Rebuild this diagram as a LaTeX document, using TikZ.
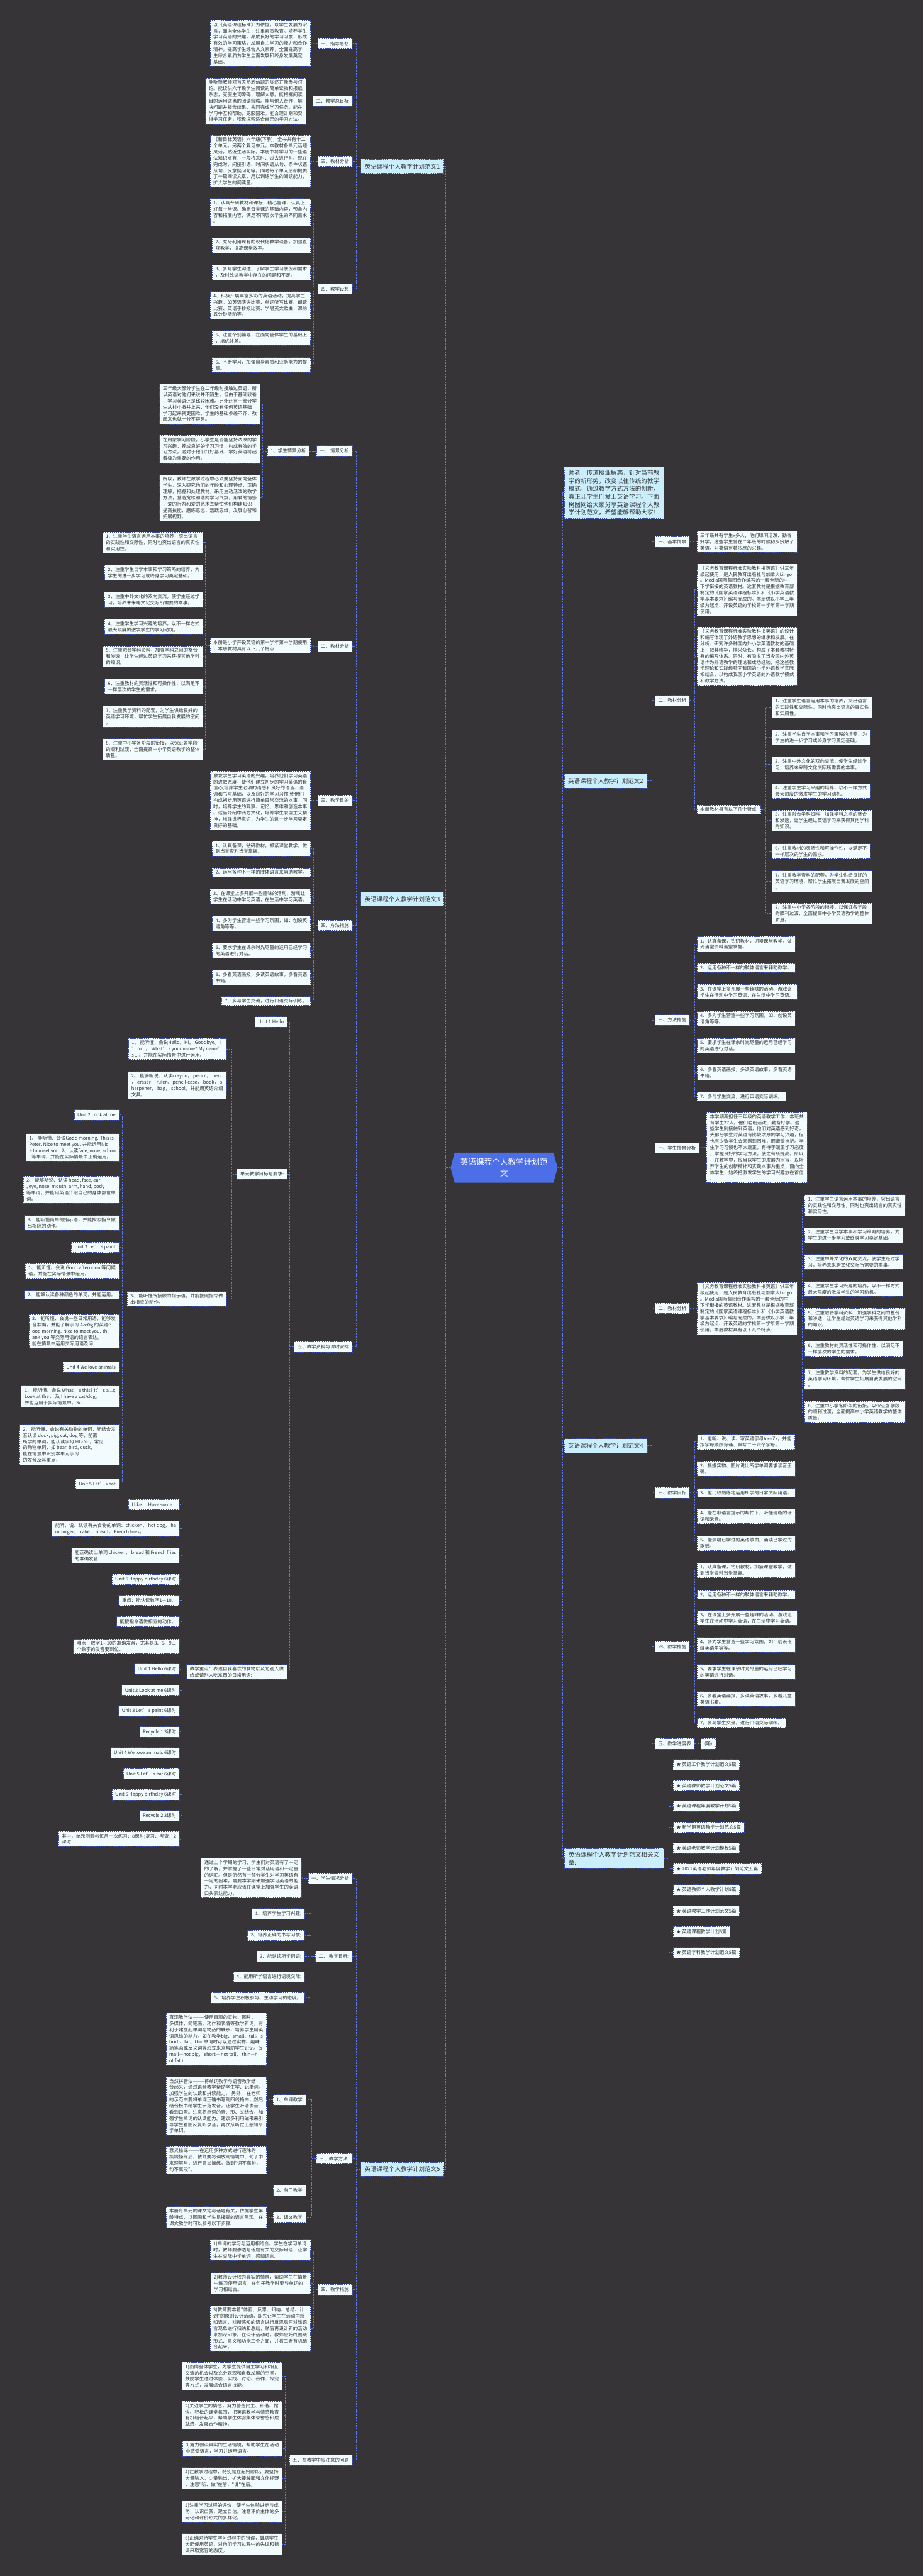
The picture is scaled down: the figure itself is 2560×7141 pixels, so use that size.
\documentclass[tikz,border=0pt]{standalone}
\usepackage{fontspec}
\newfontfamily\cjk{Noto Sans CJK SC}
\usetikzlibrary{shapes.symbols}
\definecolor{bg}{HTML}{363437}
\definecolor{nf}{HTML}{F2FBFD}
\definecolor{tf}{HTML}{CBEEFC}
\definecolor{bd}{HTML}{3D4E9C}
\definecolor{cn}{HTML}{5C78EE}
\definecolor{cf}{HTML}{4C6EE6}
\definecolor{tx}{HTML}{333333}
\newcommand\bodyf{\cjk\fontsize{6.5}{8.6}\selectfont}
\newcommand\ttlf{\cjk\fontsize{8.3}{10}\selectfont}
\newcommand\introf{\cjk\fontsize{8.4}{11}\selectfont}
\newcommand\centf{\cjk\fontsize{11}{15}\selectfont}
\tikzset{
 base/.style={draw=bd, dash pattern=on 1.5pt off 1pt, line width=0.6pt, fill=nf, text=tx, font=\bodyf, align=left, inner xsep=4.5pt, inner ysep=3pt},
 lab/.style={base, minimum height=14.5pt},
 txt/.style={base},
 ttl/.style={base, fill=tf, font=\ttlf, inner xsep=5.5pt, minimum height=19.5pt},
 intro/.style={base, fill=tf, font=\introf, inner xsep=6pt, inner ysep=4.5pt},
 cnode/.style={signal, signal to=east and west, signal pointer angle=150, fill=cf, text=white, font=\centf, align=center, inner xsep=8pt, inner ysep=5pt, minimum height=41.5pt},
 conn/.style={draw=cn, dash pattern=on 2.2pt off 1.6pt, line width=0.85pt},
 L/.style={anchor=east}, R/.style={anchor=west}
}
\begin{document}
\begin{tikzpicture}[x=0.5pt,y=-0.5pt]
\fill[bg] (0,0) rectangle (2560,7141);
\useasboundingbox (0,0) rectangle (2560,7141);

% center
\node[cnode] (C) at (1397,3237) {英语课程个人教学计划范\\文};

% ================= 范文1 =================
\node[ttl,L] (A) at (1231,461) {英语课程个人教学计划范文1};
\node[lab,L] (A1) at (977,121) {一、指导思想};
\node[txt,L] (A1t) at (861,120) {以《英语课程标准》为依据，以学生发展为宗\\旨，面向全体学生，注重素质教育。培养学生\\学习英语的兴趣，养成良好的学习习惯，形成\\有效的学习策略，发展自主学习的能力和合作\\精神，提高学生综合人文素养，全面提高学\\生综合素质为学生全面发展和终身发展奠定\\基础。};
\node[lab,L] (A2) at (977,280) {二、教学总目标};
\node[txt,L] (A2t) at (848,280) {能听懂教师对有关熟悉话题的陈述并能参与讨\\论。能读供六年级学生阅读的简单读物和报纸\\杂志，克服生词障碍，理解大意。能根据阅读\\目的运用适当的阅读策略。能与他人合作，解\\决问题并报告结果，共同完成学习任务。能在\\学习中互相帮助，克服困难。能合理计划和安\\排学习任务，积极探索适合自己的学习方法。};
\node[lab,L] (A3) at (977,447) {三、教材分析};
\node[txt,L] (A3t) at (861,447) {《新目标英语》六年级(下册)，全书共有十二\\个单元，另两个复习单元。本教材各单元话题\\灵活，贴近生活实际。本册书将学习的一些语\\法知识点有：一般将来时、过去进行时、现在\\完成时、间接引语、时间状语从句、条件状语\\从句、反意疑问句等。同时每个单元后都提供\\了一篇阅读文章，用以训练学生的阅读能力，\\扩大学生的阅读量。};
\node[lab,L] (A4) at (977,801) {四、教学设想};
\node[txt,L] (A4a) at (861,588) {1、认真专研教材和课标，精心备课，认真上\\好每一堂课。确定每堂课的基础内容，预备内\\容和拓展内容，满足不同层次学生的不同需求\\。};
\node[txt,L] (A4b) at (861,680) {2、充分利用现有的现代化教学设备，加强直\\观教学，提高课堂效率。};
\node[txt,L] (A4c) at (861,755) {3、多与学生沟通，了解学生学习状况和需求\\，及时改进教学中存在的问题和不足。};
\node[txt,L] (A4d) at (861,846) {4、积极开展丰富多彩的英语活动，提高学生\\兴趣。如英语演讲比赛、单词听写比赛、朗读\\比赛、英语手抄报比赛、学唱英文歌曲，课前\\五分钟活动等。};
\node[txt,L] (A4e) at (861,937) {5、注重个别辅导，在面向全体学生的基础上\\，培优补差。};
\node[txt,L] (A4f) at (861,1012) {6、不断学习，加强自身素质和业务能力的提\\高。};

\draw[conn] (C.west) -- ++(-14,0) |- (A.east);
\foreach \c in {A1,A2,A3,A4} \draw[conn] (A.west) -- ++(-12,0) |- (\c.east);
\draw[conn] (A1.west) -- (A1t.east);
\draw[conn] (A2.west) -- (A2t.east);
\draw[conn] (A3.west) -- (A3t.east);
\foreach \c in {A4a,A4b,A4c,A4d,A4e,A4f} \draw[conn] (A4.west) -- ++(-11,0) |- (\c.east);

% ================= 范文3 =================
\node[ttl,L] (B) at (1231,2492) {英语课程个人教学计划范文3};
\node[lab,L] (B1) at (977,1250) {一、 情景分析};
\node[lab,L] (B1a) at (858,1250) {1、学生情景分析};
\node[txt,L] (B1a1) at (721,1120) {三年级大部分学生在二年级时接触过英语，所\\以英语对他们来说并不陌生，但由于基础较差\\，学习英语还是比较困难。另外还有一部分学\\生从村小撤并上来，他们没有任何英语基础，\\学习起来就更困难。学生的基础参差不齐，教\\起来也就十分不容易。};
\node[txt,L] (B1a2) at (721,1245) {在启蒙学习阶段，小学生是否能坚持浓厚的学\\习兴趣，养成良好的学习习惯，构成有效的学\\习方法，这对于他们打好基础，学好英语将起\\着极为重要的作用。};
\node[txt,L] (B1a3) at (721,1380) {所以，教师在教学过程中必须要坚持面向全体\\学生，深入研究他们的年龄和心理特点，正确\\理解，把握和处理教材，采用生动活泼的教学\\方法，营造宽松和谐的学习气氛，用爱的情感\\，爱的行为和爱的艺术去帮忙他们构建知识，\\提高技能，磨练意志，活跃思维，发展心智和\\拓展视野。};
\node[lab,L] (B2) at (977,1792) {二、教材分析};
\node[txt,L] (B2a) at (861,1790) {本册是小学开设英语的第一学年第一学期使用\\，本册教材具有以下几个特点:};
\node[txt,L] (B2a1) at (563,1504) {1、注重学生语言运用本事的培养，突出语言\\的实践性和交际性，同时也突出语言的真实性\\和实用性。};
\node[txt,L] (B2a2) at (563,1587) {2、注重学生自学本事和学习策略的培养，为\\学生的进一步学习或终身学习奠定基础。};
\node[txt,L] (B2a3) at (563,1662) {3、注重中外文化的双向交流，使学生经过学\\习，培养未来跨文化交际所需要的本事。};
\node[txt,L] (B2a4) at (563,1737) {4、注重学生学习兴趣的培养，以不一样方式\\最大限度的激发学生的学习动机。};
\node[txt,L] (B2a5) at (563,1820) {5、注重融合学科资料，加强学科之间的整合\\和渗透，让学生经过英语学习来获得其他学科\\的知识。};
\node[txt,L] (B2a6) at (563,1903) {6、注重教材的灵活性和可操作性，以满足不\\一样层次的学生的需求。};
\node[txt,L] (B2a7) at (563,1986) {7、注重教学资料的配套，为学生供给良好的\\英语学习环境，帮忙学生拓展自我发展的空间\\。};
\node[txt,L] (B2a8) at (563,2077) {8、注重中小学各阶段的衔接，以保证各学段\\的顺利过渡，全面提高中小学英语教学的整体\\质量。};
\node[lab,L] (B3) at (977,2219) {三、教学目的};
\node[txt,L] (B3t) at (861,2219) {激发学生学习英语的兴趣，培养他们学习英语\\的进取态度，使他们建立初步的学习英语的自\\信心;培养学生必须的语感和良好的语音、语\\调和书写基础，以及良好的学习习惯;使他们\\构成初步用英语进行简单日常交流的本事。同\\时，培养学生的观察、记忆、思维和创造本事\\。适当介绍中西方文化，培养学生爱国主义精\\神，增强世界意识，为学生的进一步学习奠定\\良好的基础。};
\node[lab,L] (B4) at (977,2565) {四、方法措施};
\node[txt,L] (B4a) at (861,2352) {1、认真备课，钻研教材，抓紧课堂教学，做\\到当堂资料当堂掌握。};
\node[txt,L] (B4b) at (861,2418) {2、运用各种不一样的肢体语言来辅助教学。};
\node[txt,L] (B4c) at (861,2485) {3、在课堂上多开展一些趣味的活动、游戏让\\学生在活动中学习英语，在生活中学习英语。};
\node[txt,L] (B4d) at (861,2560) {4、多为学生营造一些学习氛围，如：创设英\\语角等等。};
\node[txt,L] (B4e) at (861,2635) {5、要求学生在课余时光尽量的运用已经学习\\的英语进行对话。};
\node[txt,L] (B4f) at (861,2710) {6、多看英语画报，多读英语故事，多看英语\\书籍。};
\node[txt,L] (B4g) at (861,2775) {7、多与学生交流，进行口语交际训练。};
\node[lab,L] (B5) at (977,3734) {五、教学资料与课时安排};
\node[lab,L] (B5a) at (796,2833) {Unit 1 Hello};
\node[lab,L] (B5b) at (796,3255) {单元教学目标与要求:};
\node[txt,L] (B5b1) at (628,2908) {1、 能听懂，会说Hello。Hi。 Goodbye。 I\\’ m...。 What’ s your name? My name’\\s ...。并能在实际情景中进行运用。};
\node[txt,L] (B5b2) at (628,3008) {2、 能够听说、认读crayon， pencil， pen\\， eraser， ruler， pencil-case， book， s\\harpener， bag， school，并能用英语介绍\\文具。};
\node[txt,L] (B5b3) at (628,3601) {3、 能听懂所接触的指示语，并能按照指令做\\出相应的动作。};
\node[lab,L] (D1) at (330,3091) {Unit 2 Look at me};
\node[txt,L] (D2) at (330,3181) {1、 能听懂、会说Good morning. This is\\Peter. Nice to meet you. 并能运用Nic\\e to meet you. 2、认读face, nose, schoo\\l 等单词，并能在实际情景中正确运用。};
\node[txt,L] (D3) at (330,3298) {2、 能够听说、认读 head, face, ear\\, eye, nose, mouth, arm, hand, body\\等单词，并能用英语介绍自己的身体部位单\\词。};
\node[txt,L] (D4) at (330,3390) {3、 能听懂简单的指示语，并能按照指令做\\出相应的动作。};
\node[lab,L] (D5) at (330,3458) {Unit 3 Let’ s paint};
\node[txt,L] (D6) at (330,3523) {1、 能听懂、会说 Good afternoon 等问候\\语，并能在实际情景中运用。};
\node[txt,L] (D7) at (330,3589) {2、 能够认读各种颜色的单词，并能运用。};
\node[txt,L] (D8) at (330,3690) {3、 能听懂、会说一些日常用语，能够发\\音准确，并能了解字母 Aa-Gg 的英语G\\ood morning. Nice to meet you. th\\ank you 等交际用语的语言表达。\\能在情景中运用交际用语及问};
\node[lab,L] (D9) at (330,3790) {Unit 4 We love animals};
\node[txt,L] (D10) at (330,3871) {1、 能听懂、会说 What’ s this? It’ s a...);\\ Look at the ... 及 I have a cat/dog,\\ 并能运用于实际情景中。Su};
\node[txt,L] (D11) at (330,4005) {2、 能听懂、会说有关动物的单词，能结合发\\音认读 duck, pig, cat, dog 等，前面\\所学的单词，能认读字母 Hh-Nn，常见\\的动物单词，如 bear, bird, duck,\\能在情景中识别本单元字母\\的发音及其重点，};
\node[lab,L] (D12) at (330,4113) {Unit 5 Let’ s eat};
\node[txt,L] (B5c) at (796,4635) {教学重点：表达自我喜欢的食物以及为别人供\\给或请别人吃东西的日常用语:};
\node[lab,L] (E1) at (498,4171) {I like ... Have some...};
\node[txt,L] (E2) at (498,4238) {能听、说、认读有关食物的单词：chicken， hot dog， ha\\mburger， cake， bread， French fries。};
\node[txt,L] (E3) at (498,4312) {能正确读出单词 chicken， bread 和 French fries\\的准确发音};
\node[lab,L] (E4) at (498,4378) {Unit 6 Happy birthday 6课时};
\node[lab,L] (E5) at (498,4436) {重点：能认读数字1—10。};
\node[lab,L] (E6) at (498,4495) {能按指令语做相应的动作。};
\node[txt,L] (E7) at (498,4564) {难点：数字1—10的准确发音，尤其是3、5、9三\\个数字的发音要到位。};
\node[lab,L] (E8) at (498,4627) {Unit 1 Hello 6课时};
\node[lab,L] (E9) at (498,4685) {Unit 2 Look at me 6课时};
\node[lab,L] (E10) at (498,4743) {Unit 3 Let’ s paint 6课时};
\node[lab,L] (E11) at (498,4801) {Recycle 1 3课时};
\node[lab,L] (E12) at (498,4859) {Unit 4 We love animals 6课时};
\node[lab,L] (E13) at (498,4917) {Unit 5 Let’ s eat 6课时};
\node[lab,L] (E14) at (498,4975) {Unit 6 Happy birthday 6课时};
\node[lab,L] (E15) at (498,5033) {Recycle 2 3课时};
\node[txt,L] (E16) at (498,5098) {其中，单元测验与每月一次练习：8课时;复习、考查：2\\课时};

\draw[conn] (C.west) -- ++(-14,0) |- (B.east);
\foreach \c in {B1,B2,B3,B4,B5} \draw[conn] (B.west) -- ++(-12,0) |- (\c.east);
\draw[conn] (B1.west) -- (B1a.east);
\foreach \c in {B1a1,B1a2,B1a3} \draw[conn] (B1a.west) -- ++(-12,0) |- (\c.east);
\draw[conn] (B2.west) -- (B2a.east);
\foreach \c in {B2a1,B2a2,B2a3,B2a4,B2a5,B2a6,B2a7,B2a8} \draw[conn] (B2a.west) -- ++(-13,0) |- (\c.east);
\draw[conn] (B3.west) -- (B3t.east);
\foreach \c in {B4a,B4b,B4c,B4d,B4e,B4f,B4g} \draw[conn] (B4.west) -- ++(-11,0) |- (\c.east);
\foreach \c in {B5a,B5b,B5c} \draw[conn] (B5.west) -- ++(-12,0) |- (\c.east);
\foreach \c in {B5b1,B5b2,B5b3} \draw[conn] (B5b.west) -- ++(-13,0) |- (\c.east);
\foreach \c in {D1,D2,D3,D4,D5,D6,D7,D8,D9,D10,D11,D12} \draw[conn] (B5b3.west) -- ++(-13,0) |- (\c.east);
\foreach \c in {E1,E2,E3,E4,E5,E6,E7,E8,E9,E10,E11,E12,E13,E14,E15,E16} \draw[conn] (B5c.west) -- ++(-12,0) |- (\c.east);

% ================= 范文5 =================
\node[ttl,L] (F) at (1231,6013) {英语课程个人教学计划范文5};
\node[lab,L] (F1) at (977,5207) {一、学生情况分析};
\node[txt,L] (F1t) at (836,5206) {通过上个学期的学习，学生们对英语有了一定\\的了解，并掌握了一些日常对话用语和一定量\\的词汇。但是仍然有一部分学生对学习英语有\\一定的困难，需要本学期来加强学习英语的能\\力，同时本学期应该在课堂上加强学生的英语\\口头表达能力。};
\node[lab,L] (F2) at (977,5423) {二、 教学目标:};
\node[lab,L] (F2a) at (845,5305) {1、培养学生学习兴趣;};
\node[lab,L] (F2b) at (845,5365) {2、培养正确的书写习惯;};
\node[lab,L] (F2c) at (845,5423) {3、能认读所学词语;};
\node[lab,L] (F2d) at (845,5480) {4、能用所学语言进行语境交际;};
\node[lab,L] (F2e) at (845,5538) {5、培养学生积极参与、主动学习的态度。};
\node[lab,L] (F3) at (977,5984) {三、教学方法:};
\node[lab,L] (F3a) at (848,5821) {1、单词教学};
\node[txt,L] (F3a1) at (739,5653) {直观教学法———使用直观的实物、图片、\\多媒体、简笔画、动作和表情等教学新词，有\\利于建立起单词与物品的联系，培养学生用英\\语思维的能力。如在教学big、small、tall、s\\hort 、fat、thin单词时可以通过实物、趣味\\简笔画或反义词等形式来来帮助学生识记。(s\\mall—not big， short— not tall， thin—n\\ot fat )};
\node[txt,L] (F3a2) at (739,5838) {自然拼音法———将单词教学与语音教学结\\合起来，通过语音教学帮助学生学、记单词。\\加强学生的认读和拼读能力。 另外， 在老师\\的示范中要将单词正确书写到四线格中，然后\\结合板书给学生示范发音，让学生听清发音、\\看到口型。注意将单词的音、形、义结合，加\\强学生单词的认读能力。建议多利用磁带来引\\导学生看图反复听录音，再次从听觉上感知所\\学单词。};
\node[txt,L] (F3a3) at (739,5988) {意义操练———在运用多种方式进行趣味的\\机械操练后，教师要将词放到情境中、句子中\\来理解与，进行意义操练。做到"词不离句，\\句不离段"。};
\node[lab,L] (F3b) at (848,6072) {2、句子教学};
\node[lab,L] (F3c) at (848,6146) {3、课文教学};
\node[txt,L] (F3c1) at (739,6146) {本册每单元的课文均与话题有关，依据学生年\\龄特点，以图画和学生易接受的语言呈现。在\\课文教学时可以参考以下步骤:};
\node[lab,L] (F4) at (977,6347) {四、教学措施};
\node[txt,L] (F4a) at (861,6237) {1)单词的学习与运用相结合。学生在学习单词\\时，教师要渗透与话题有关的交际用语，让学\\生在交际中学单词，感知语言。};
\node[txt,L] (F4b) at (861,6329) {2)教师设计较为真实的情景，帮助学生在情景\\中练习使用语言。在句子教学时要与单词的\\学习相结合。};
\node[txt,L] (F4c) at (861,6455) {3)教师要本着"体验、反思、归纳、总结、计\\划"的原则设计活动，即先让学生在活动中感\\知语言，对所感知的语言进行反思后再对该语\\言现象进行归纳和总结，然后再设计新的活动\\来加深印象。在设计活动时，教师应始终围绕\\形式、意义和功能三个方面，并将三者有机结\\合起来。};
\node[lab,L] (F5) at (977,6820) {五、在教学中应注意的问题};
\node[txt,L] (F5a) at (783,6587) {1)面向全体学生，为学生提供自主学习和相互\\交流的机会以及充分表现和自我发展的空间，\\鼓励学生通过体验、实践、讨论、合作、探究\\等方式，发展综合语言技能。};
\node[txt,L] (F5b) at (783,6695) {2)关注学生的情感，努力营造民主、和谐、愉\\快、轻松的课堂氛围，把英语教学与情感教育\\有机结合起来，帮助学生体验集体荣誉感和成\\就感，发展合作精神。};
\node[txt,L] (F5c) at (783,6787) {3)努力创设真实的生活情境，帮助学生在活动\\中感受语言，学习并运用语言。};
\node[txt,L] (F5d) at (783,6870) {4)在教学过程中，特别是在起始阶段，要坚持\\大量输入，少量输出，扩大接触面和文化视野\\，注意"听、做"在前，"说"在后。};
\node[txt,L] (F5e) at (783,6962) {5)注重学习过程的评价，使学生体验进步与成\\功，认识自我，建立自信。注意评价主体的多\\元化和评价形式的多样化。};
\node[txt,L] (F5f) at (783,7053) {6)正确对待学生学习过程中的错误，鼓励学生\\大胆使用英语，对他们学习过程中的失误和错\\误采取宽容的态度。};

\draw[conn] (C.west) -- ++(-14,0) |- (F.east);
\foreach \c in {F1,F2,F3,F4,F5} \draw[conn] (F.west) -- ++(-12,0) |- (\c.east);
\draw[conn] (F1.west) -- (F1t.east);
\foreach \c in {F2a,F2b,F2c,F2d,F2e} \draw[conn] (F2.west) -- ++(-12,0) |- (\c.east);
\foreach \c in {F3a,F3b,F3c} \draw[conn] (F3.west) -- ++(-12,0) |- (\c.east);
\foreach \c in {F3a1,F3a2,F3a3} \draw[conn] (F3a.west) -- ++(-11,0) |- (\c.east);
\draw[conn] (F3c.west) -- (F3c1.east);
\foreach \c in {F4a,F4b,F4c} \draw[conn] (F4.west) -- ++(-11,0) |- (\c.east);
\foreach \c in {F5a,F5b,F5c,F5d,F5e,F5f} \draw[conn] (F5.west) -- ++(-12,0) |- (\c.east);

% ================= right side =================
\node[intro,R] (I) at (1563,1366) {师者，传道授业解惑，针对当前教\\学的新形势，改变以往传统的教学\\模式，通过教学方式方法的创新，\\真正让学生们爱上英语学习。下面\\树图网给大家分享英语课程个人教\\学计划范文，希望能够帮助大家!};

% 范文2
\node[ttl,R] (G) at (1563,2165) {英语课程个人教学计划范文2};
\node[lab,R] (G1) at (1815,1502) {一、基本情景};
\node[txt,R] (G1t) at (1931,1502) {三年级共有学生x多人，他们聪明活泼、勤奋\\好学，这些学生曾在二年级的时候初步接触了\\英语，对英语有着浓厚的兴趣。};
\node[lab,R] (G2) at (1815,1942) {二、教材分析};
\node[txt,R] (G2a) at (1931,1635) {《义务教育课程标准实验教科书英语》供三年\\级起使用，是人民教育出版社与加拿大Lingo\\。Media国际集团合作编写的一套全新的中\\下学衔接的英语教材。这套教材是根据教育部\\制定的《国家英语课程标准》和《小学英语教\\学基本要求》编写而成的。本册供以小学三年\\级为起点、开设英语的学校第一学年第一学期\\使用。};
\node[txt,R] (G2b) at (1931,1819) {《义务教育课程标准实验教科书英语》的设计\\和编写体现了外语教学思想的继承和发展。在\\分析、研究许多种国内外小学英语教材的基础\\上，取其精华，博采众长，构成了本套教材特\\有的编写体系。同时，有吸收了当今国内外英\\语作为外语教学的理论和成功经验，把这些教\\学理论和实践经验同我国的小学外语教学实际\\相结合，以构成我国小学英语的外语教学模式\\和教学方法。};
\node[txt,R] (G2c) at (1931,2244) {本册教材具有以下几个特点:};
\node[txt,R] (G2c1) at (2139,1961) {1、注重学生语言运用本事的培养，突出语言\\的实践性和交际性，同时也突出语言的真实性\\和实用性。};
\node[txt,R] (G2c2) at (2139,2044) {2、注重学生自学本事和学习策略的培养，为\\学生的进一步学习或终身学习奠定基础。};
\node[txt,R] (G2c3) at (2139,2119) {3、注重中外文化的双向交流，使学生经过学\\习，培养未来跨文化交际所需要的本事。};
\node[txt,R] (G2c4) at (2139,2193) {4、注重学生学习兴趣的培养，以不一样方式\\最大限度的激发学生的学习动机。};
\node[txt,R] (G2c5) at (2139,2275) {5、注重融合学科资料，加强学科之间的整合\\和渗透，让学生经过英语学习来获得其他学科\\的知识。};
\node[txt,R] (G2c6) at (2139,2360) {6、注重教材的灵活性和可操作性，以满足不\\一样层次的学生的需求。};
\node[txt,R] (G2c7) at (2139,2443) {7、注重教学资料的配套，为学生供给良好的\\英语学习环境，帮忙学生拓展自我发展的空间\\。};
\node[txt,R] (G2c8) at (2139,2533) {8、注重中小学各阶段的衔接，以保证各学段\\的顺利过渡，全面提高中小学英语教学的整体\\质量。};
\node[lab,R] (G3) at (1815,2828) {三、方法措施};
\node[txt,R] (G3a) at (1931,2617) {1、认真备课，钻研教材，抓紧课堂教学，做\\到当堂资料当堂掌握。};
\node[txt,R] (G3b) at (1931,2683) {2、运用各种不一样的肢体语言来辅助教学。};
\node[txt,R] (G3c) at (1931,2750) {3、在课堂上多开展一些趣味的活动、游戏让\\学生在活动中学习英语，在生活中学习英语。};
\node[txt,R] (G3d) at (1931,2824) {4、多为学生营造一些学习氛围，如：创设英\\语角等等。};
\node[txt,R] (G3e) at (1931,2899) {5、要求学生在课余时光尽量的运用已经学习\\的英语进行对话。};
\node[txt,R] (G3f) at (1931,2973) {6、多看英语画报，多读英语故事，多看英语\\书籍。};
\node[txt,R] (G3g) at (1931,3040) {7、多与学生交流，进行口语交际训练。};

% 范文4
\node[ttl,R] (H) at (1563,4008) {英语课程个人教学计划范文4};
\node[lab,R] (H1) at (1815,3182) {一、学生情景分析};
\node[txt,R] (H1t) at (1958,3181) {本学期我担任三年级的英语教学工作，本班共\\有学生27人。他们聪明活泼、勤奋好学。这\\些学生刚接触到英语，他们对英语感到好奇，\\大部分学生对英语有比较浓厚的学习兴趣，但\\也有少数学生会因遇到困难，而遭受挫折。学\\生学习习惯也不太端正，有待于端正学习态度\\，掌握良好的学习方法，使之有所提高。所以\\，在教学中，应当以学生的发展为宗旨，以培\\养学生的创新精神和实践本事为重点，面向全\\体学生，始终把激发学生的学习兴趣放在首位\\。};
\node[lab,R] (H2) at (1815,3627) {二、教材分析};
\node[txt,R] (H2t) at (1931,3627) {《义务教育课程标准实验教科书英语》供三年\\级起使用，是人民教育出版社与加拿大Lingo\\。Media国际集团合作编写的一套全新的中\\下学衔接的英语教材。这套教材是根据教育部\\制定的《国家英语课程标准》和《小学英语教\\学基本要求》编写而成的。本册供以小学三年\\级为起点、开设英语的学校第一学年第一学期\\使用。本册教材具有以下几个特点:};
\node[txt,R] (H2a) at (2230,3341) {1、注重学生语言运用本事的培养，突出语言\\的实践性和交际性，同时也突出语言的真实性\\和实用性。};
\node[txt,R] (H2b) at (2230,3424) {2、注重学生自学本事和学习策略的培养，为\\学生的进一步学习或终身学习奠定基础。};
\node[txt,R] (H2c) at (2230,3498) {3、注重中外文化的双向交流，使学生经过学\\习，培养未来跨文化交际所需要的本事。};
\node[txt,R] (H2d) at (2230,3573) {4、注重学生学习兴趣的培养，以不一样方式\\最大限度的激发学生的学习动机。};
\node[txt,R] (H2e) at (2230,3656) {5、注重融合学科资料，加强学科之间的整合\\和渗透，让学生经过英语学习来获得其他学科\\的知识。};
\node[txt,R] (H2f) at (2230,3739) {6、注重教材的灵活性和可操作性，以满足不\\一样层次的学生的需求。};
\node[txt,R] (H2g) at (2230,3822) {7、注重教学资料的配套，为学生供给良好的\\英语学习环境，帮忙学生拓展自我发展的空间\\。};
\node[txt,R] (H2h) at (2230,3914) {8、注重中小学各阶段的衔接，以保证各学段\\的顺利过渡，全面提高中小学英语教学的整体\\质量。};
\node[lab,R] (H3) at (1815,4138) {三、教学目标};
\node[txt,R] (H3a) at (1931,3997) {1、能听、说、读、写英语字母Aa-{}-Zz，并能\\按字母顺序背诵、默写二十六个字母。};
\node[txt,R] (H3b) at (1931,4071) {2、根据实物、图片说出所学单词要求读音正\\确。};
\node[txt,R] (H3c) at (1931,4138) {3、能比较熟练地运用所学的日常交际用语。};
\node[txt,R] (H3d) at (1931,4203) {4、能在非语言提示的帮忙下，听懂清晰的话\\语和录音。};
\node[txt,R] (H3e) at (1931,4278) {5、能演唱已学过的英语歌曲，诵读已学过的\\歌谣。};
\node[lab,R] (H4) at (1815,4565) {四、教学措施};
\node[txt,R] (H4a) at (1931,4353) {1。认真备课，钻研教材，抓紧课堂教学，做\\到当堂资料当堂掌握。};
\node[txt,R] (H4b) at (1931,4420) {2。运用各种不一样的肢体语言来辅助教学。};
\node[txt,R] (H4c) at (1931,4485) {3。在课堂上多开展一些趣味的活动、游戏让\\学生在活动中学习英语，在生活中学习英语。};
\node[txt,R] (H4d) at (1931,4560) {4。多为学生营造一些学习氛围，如：创设班\\级英语角等等。};
\node[txt,R] (H4e) at (1931,4635) {5。要求学生在课余时光尽量的运用已经学习\\的英语进行对话。};
\node[txt,R] (H4f) at (1931,4710) {6。多看英语画报，多读英语故事，多看儿童\\英语书籍。};
\node[txt,R] (H4g) at (1931,4776) {7。多与学生交流，进行口语交际训练。};
\node[lab,R] (H5) at (1815,4834) {五、教学进度表};
\node[lab,R] (H5a) at (1943,4834) {(略)};

% related
\node[intro,R] (K) at (1563,5152) {英语课程个人教学计划范文相关文\\章:};
\node[lab,R] (K1) at (1865,4892) {★ 英语工作教学计划范文5篇};
\node[lab,R] (K2) at (1865,4950) {★ 英语教师教学计划范文5篇};
\node[lab,R] (K3) at (1865,5007) {★ 英语课程年度教学计划5篇};
\node[lab,R] (K4) at (1865,5065) {★ 新学期英语教学计划范文5篇};
\node[lab,R] (K5) at (1865,5123) {★ 英语老师教学计划模板5篇};
\node[lab,R] (K6) at (1865,5181) {★ 2021英语老师年度教学计划范文五篇};
\node[lab,R] (K7) at (1865,5239) {★ 英语教师个人教学计划5篇};
\node[lab,R] (K8) at (1865,5297) {★ 英语教学工作计划范文5篇};
\node[lab,R] (K9) at (1865,5355) {★ 英语课程教学计划5篇};
\node[lab,R] (K10) at (1865,5413) {★ 英语学科教学计划范文5篇};

\foreach \c in {I,G,H,K} \draw[conn] (C.east) -- ++(14,0) |- (\c.west);
\foreach \c in {G1,G2,G3} \draw[conn] (G.east) -- ++(13,0) |- (\c.west);
\draw[conn] (G1.east) -- (G1t.west);
\foreach \c in {G2a,G2b,G2c} \draw[conn] (G2.east) -- ++(13,0) |- (\c.west);
\foreach \c in {G2c1,G2c2,G2c3,G2c4,G2c5,G2c6,G2c7,G2c8} \draw[conn] (G2c.east) -- ++(13,0) |- (\c.west);
\foreach \c in {G3a,G3b,G3c,G3d,G3e,G3f,G3g} \draw[conn] (G3.east) -- ++(13,0) |- (\c.west);
\foreach \c in {H1,H2,H3,H4,H5} \draw[conn] (H.east) -- ++(13,0) |- (\c.west);
\draw[conn] (H1.east) -- (H1t.west);
\draw[conn] (H2.east) -- (H2t.west);
\foreach \c in {H2a,H2b,H2c,H2d,H2e,H2f,H2g,H2h} \draw[conn] (H2t.east) -- ++(13,0) |- (\c.west);
\foreach \c in {H3a,H3b,H3c,H3d,H3e} \draw[conn] (H3.east) -- ++(13,0) |- (\c.west);
\foreach \c in {H4a,H4b,H4c,H4d,H4e,H4f,H4g} \draw[conn] (H4.east) -- ++(13,0) |- (\c.west);
\draw[conn] (H5.east) -- (H5a.west);
\foreach \c in {K1,K2,K3,K4,K5,K6,K7,K8,K9,K10} \draw[conn] (K.east) -- ++(13,0) |- (\c.west);
\end{tikzpicture}
\end{document}
